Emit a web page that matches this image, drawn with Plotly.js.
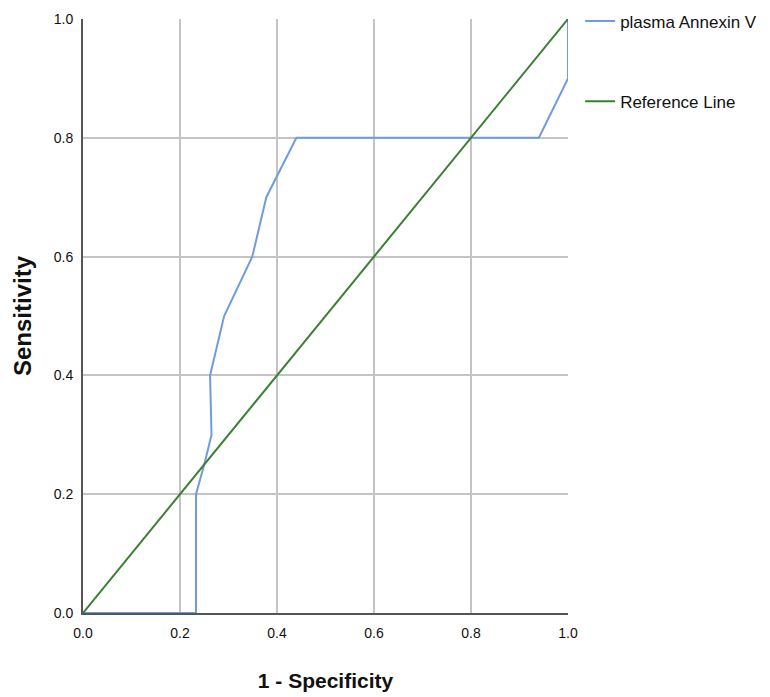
<!DOCTYPE html>
<html><head><meta charset="utf-8">
<script src="https://cdn.plot.ly/plotly-3.0.1.min.js"></script>
<style>body{margin:0;background:#fff}#chart{width:770px;height:697px}</style>
</head><body><div id="chart"></div>
<script>
const rocX = [0, 0.233, 0.233, 0.25, 0.265, 0.262, 0.291, 0.349, 0.378, 0.44, 0.94, 1.0, 1.0];
const rocY = [0, 0, 0.2, 0.25, 0.3, 0.4, 0.5, 0.6, 0.7, 0.8, 0.8, 0.9, 1.0];
const refX = [0, 1];
const refY = [0, 1];
const tickVals = [0, 0.2, 0.4, 0.6, 0.8, 1.0];
const tickText = ['0.0', '0.2', '0.4', '0.6', '0.8', '1.0'];

const traces = [
  {x: rocX, y: rocY, type: 'scatter', mode: 'lines', name: 'plasma Annexin V', legendgroup: 'a',
   line: {color: '#6f9ddb', width: 2}},
  {x: refX, y: refY, type: 'scatter', mode: 'lines', name: 'Reference Line', legendgroup: 'b',
   line: {color: '#3a7f33', width: 2}}
];
const layout = {
  width: 770, height: 697,
  margin: {l: 83, r: 202, t: 19, b: 84, autoexpand: false},
  paper_bgcolor: '#fff', plot_bgcolor: '#fff',
  font: {family: 'Liberation Sans, Arial, sans-serif', color: '#111'},
  xaxis: {range: [0, 1], tickvals: tickVals, ticktext: tickText, showgrid: true,
    gridcolor: '#c4c4c4', gridwidth: 2, zeroline: false, showline: true, linecolor: '#555', linewidth: 2,
    ticks: '', ticklabelstandoff: 6, tickfont: {size: 14, color: '#111'},
    title: {text: '<b>1 - Specificity</b>', font: {size: 21, color: '#111'}, standoff: 34}},
  yaxis: {range: [0, 1], tickvals: tickVals, ticktext: tickText, showgrid: true,
    gridcolor: '#c4c4c4', gridwidth: 2, zeroline: false, showline: true, linecolor: '#555', linewidth: 2,
    ticks: '', ticklabelstandoff: 5, tickfont: {size: 14, color: '#111'},
    title: {text: '<b>Sensitivity</b>', font: {size: 24, color: '#111'}, standoff: 15}},
  showlegend: true,
  legend: {x: 1.025, xanchor: 'left', y: 1.026, yanchor: 'top', traceorder: 'grouped', tracegroupgap: 55,
    font: {size: 17, color: '#111'}, bgcolor: 'rgba(0,0,0,0)', itemwidth: 30}
};
Plotly.newPlot('chart', traces, layout, {displayModeBar: false});
</script></body></html>
